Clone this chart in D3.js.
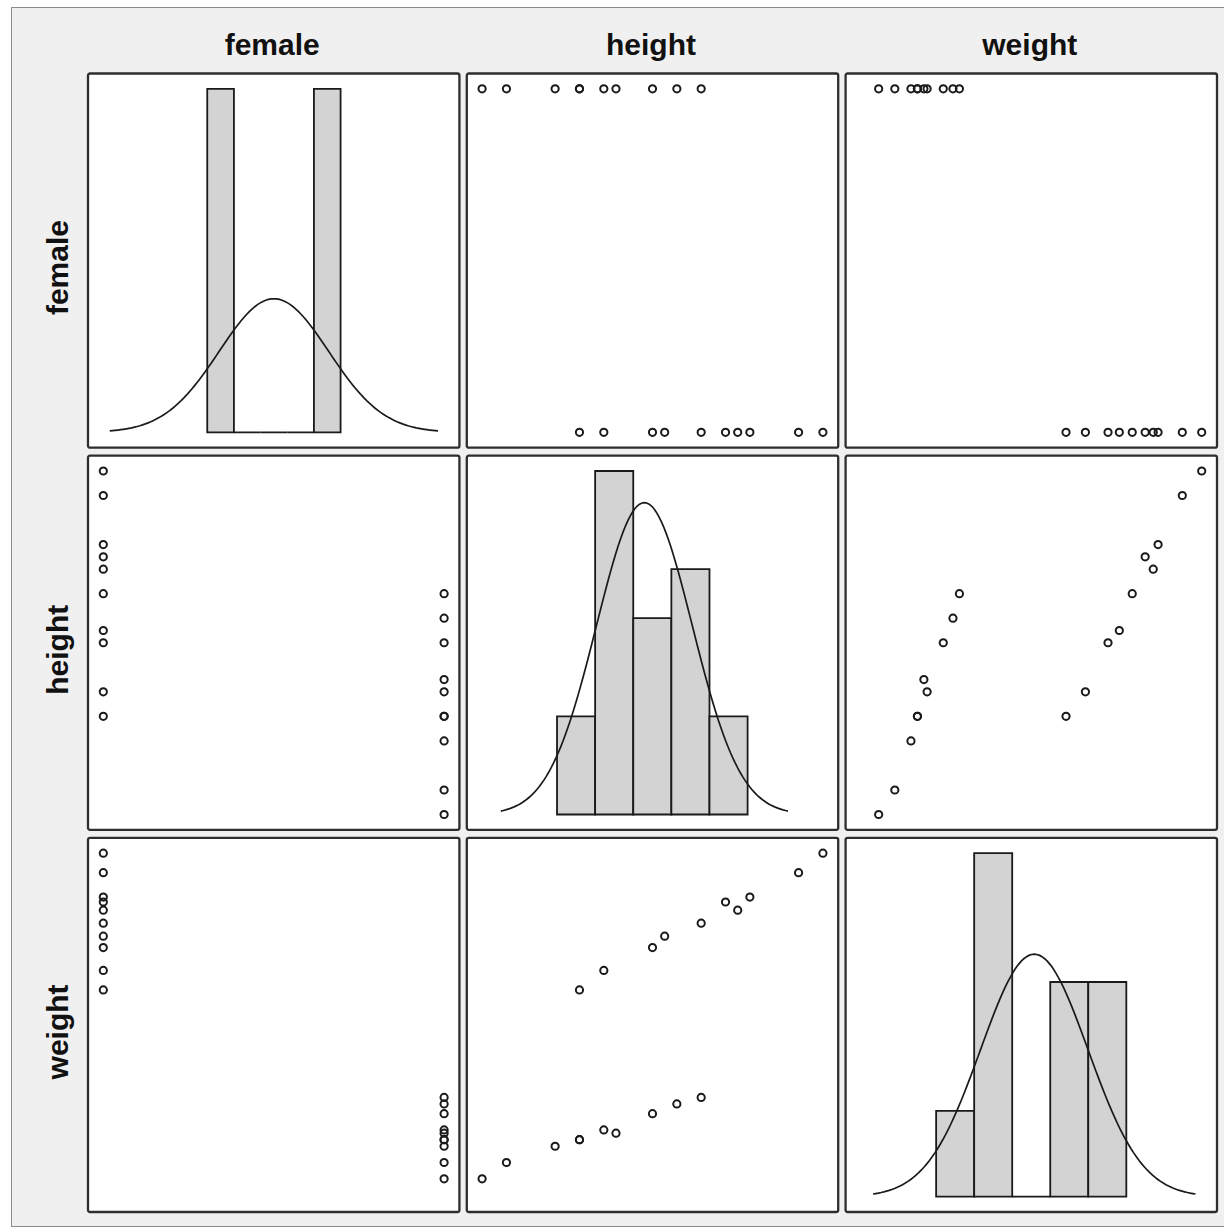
<!DOCTYPE html>
<html>
<head>
<meta charset="utf-8">
<script src="https://cdn.jsdelivr.net/npm/d3@7"></script>
<style>
  body { margin: 0; background: #fff; }
  text { font-family: "Liberation Sans", Arial, sans-serif; font-weight: bold; fill: #111; }
</style>
</head>
<body>
<div id="chart"></div>
<script>
// variables in the matrix, in display order
const vars = ['female', 'height', 'weight']

// observations (one entry per person)
const female = [1, 1, 1, 1, 1, 1, 1, 1, 1, 1, 0, 0, 0, 0, 0, 0, 0, 0, 0, 0]
const height = [56, 57, 59, 60, 60, 61, 61.5, 63, 64, 65, 60, 61, 63, 63.5, 65, 66, 66.5, 67, 69, 70]
const weight = [100, 105, 110, 112, 112, 115, 114, 120, 123, 125, 158, 164, 171, 174.5, 178.5, 185, 182.5, 186.5, 194, 200]

// scatter axis domains
const femaleDomain = [0, 1]
const heightDomain = [56, 70]
const weightDomain = [94.5, 200]

// histogram bin edges
const femaleEdges = [-0.125, 0.125, 0.375, 0.625, 0.875, 1.125]
const heightEdges = [56, 59, 62, 65, 68, 71]
const weightEdges = [82, 107, 132, 157, 182, 207]

// histogram x domains (diagonal panels)
const femaleHistDomain = [-1.243, 2.239]
const heightHistDomain = [48.9, 78.13]
const weightHistDomain = [22.49, 266.6]

const data = {female: female, height: height, weight: weight}
const domains = {female: femaleDomain, height: heightDomain, weight: weightDomain}
const edges = {female: femaleEdges, height: heightEdges, weight: weightEdges}
const histDomains = {female: femaleHistDomain, height: heightHistDomain, weight: weightHistDomain}

const width = 1224, height_px = 1230
const pad = 15.3

const svg = d3.select('#chart').append('svg')
    .attr('width', width)
    .attr('height', height_px)

// grey frame
svg.append('rect')
    .attr('x', 11.5).attr('y', 7.5)
    .attr('width', width).attr('height', 1219)
    .attr('fill', '#f0f0f0')
    .attr('stroke', '#8c8c8c')
    .attr('stroke-width', 1)

const colBand = d3.scaleBand().domain(vars).range([88, 1217]).paddingInner(0.0195)
const rowBand = d3.scaleBand().domain(vars).range([73.5, 1212]).paddingInner(0.021)
const bw = colBand.bandwidth(), bh = rowBand.bandwidth()

// column titles
svg.selectAll('.col-title')
    .data(vars)
    .enter()
    .append('text')
    .attr('class', 'col-title')
    .attr('x', d => colBand(d) + bw / 2 - 1.5)
    .attr('y', 55)
    .attr('text-anchor', 'middle')
    .attr('font-size', 30)
    .text(d => d)

// row titles
svg.selectAll('.row-title')
    .data(vars)
    .enter()
    .append('text')
    .attr('class', 'row-title')
    .attr('transform', d => 'translate(68,' + (rowBand(d) + bh / 2 + 7) + ') rotate(-90)')
    .attr('text-anchor', 'middle')
    .attr('font-size', 30)
    .text(d => d)

const ink = '#1a1a1a'

vars.forEach(rowVar => {
    vars.forEach(colVar => {
        const g = svg.append('g')
            .attr('transform', 'translate(' + colBand(colVar) + ',' + rowBand(rowVar) + ')')

        g.append('rect')
            .attr('width', bw).attr('height', bh)
            .attr('rx', 2)
            .attr('fill', '#fff')
            .attr('stroke', '#2e2e2e')
            .attr('stroke-width', 2.3)

        if (rowVar === colVar) {
            // histogram with normal curve
            const values = data[colVar]
            const e = edges[colVar]
            const x = d3.scaleLinear().domain(histDomains[colVar]).range([0, bw])
            const bins = d3.bin()
                .domain([e[0], e[e.length - 1]])
                .thresholds(e.slice(1, -1))(values)
            const y = d3.scaleLinear()
                .domain([0, d3.max(bins, b => b.length)])
                .range([bh - pad, pad])

            g.selectAll('.bar')
                .data(bins)
                .enter()
                .append('path')
                .attr('class', 'bar')
                .attr('d', b => 'M' + x(b.x0) + ',' + y(0) + 'V' + y(b.length) + 'H' + x(b.x1) + 'V' + y(0) + 'Z')
                .attr('fill', '#d3d3d3')
                .attr('stroke', ink)
                .attr('stroke-width', 1.8)

            const mean = d3.mean(values)
            const sd = d3.deviation(values)
            const binW = e[1] - e[0]
            const n = values.length
            const pts = d3.range(0, 121).map(i => {
                const v = mean - 3 * sd + i * 6 * sd / 120
                const z = (v - mean) / sd
                return [v, n * binW * Math.exp(-0.5 * z * z) / (sd * Math.sqrt(2 * Math.PI))]
            })
            g.append('path')
                .datum(pts)
                .attr('fill', 'none')
                .attr('stroke', ink)
                .attr('stroke-width', 1.7)
                .attr('d', d3.line().x(d => x(d[0])).y(d => y(d[1])))
        } else {
            // scatter
            const x = d3.scaleLinear().domain(domains[colVar]).range([pad, bw - pad])
            const y = d3.scaleLinear().domain(domains[rowVar]).range([bh - pad, pad])
            const xs = data[colVar], ys = data[rowVar]
            g.selectAll('circle')
                .data(d3.range(xs.length))
                .enter()
                .append('circle')
                .attr('cx', i => x(xs[i]))
                .attr('cy', i => y(ys[i]))
                .attr('r', 3.6)
                .attr('fill', 'none')
                .attr('stroke', ink)
                .attr('stroke-width', 2)
        }
    })
})
</script>
</body>
</html>
